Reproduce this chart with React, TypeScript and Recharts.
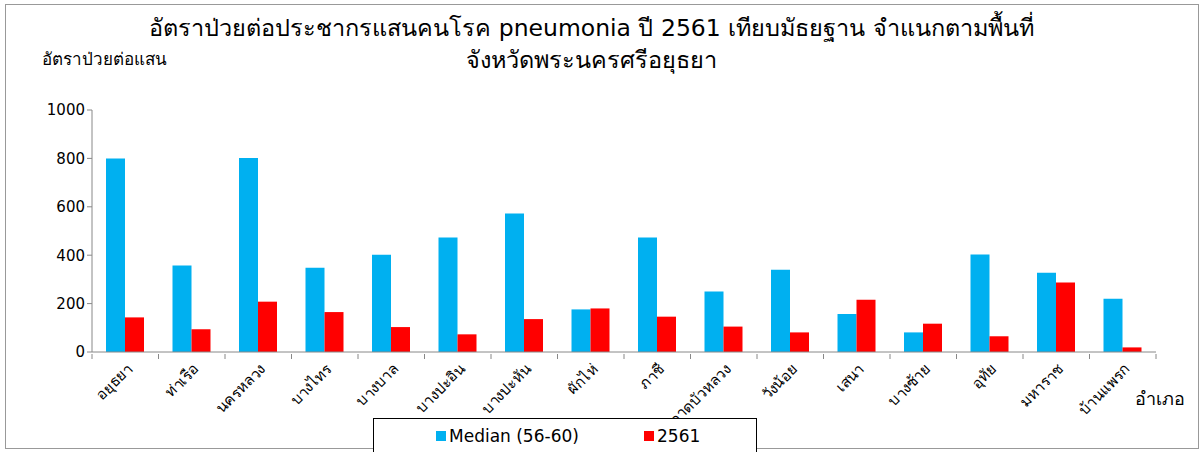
import { BarChart, Bar, XAxis, YAxis } from 'recharts';

const districts = [
  'อยุธยา', 'ท่าเรือ', 'นครหลวง', 'บางไทร', 'บางบาล', 'บางปะอิน', 'บางปะหัน', 'ผักไห่',
  'ภาชี', 'ลาดบัวหลวง', 'วังน้อย', 'เสนา', 'บางซ้าย', 'อุทัย', 'มหาราช', 'บ้านแพรก',
];
const median5660 = [800, 357, 802, 348, 402, 473, 572, 176, 473, 250, 340, 157, 81, 403, 327, 220];
const rate2561 = [143, 94, 208, 165, 103, 73, 136, 180, 146, 105, 81, 216, 117, 65, 287, 19];
const yTicks = [0, 200, 400, 600, 800, 1000];

const seriesNames = ['Median (56-60)', '2561'];
const seriesColors = ['#00B0F0', '#FF0000'];

const data = districts.map((name, i) => ({
  name,
  median: median5660[i],
  y2561: rate2561[i],
}));

const W = 1203;
const H = 452;
const PLOT_LEFT = 92;
const PLOT_RIGHT = 1156;
const BAND = (PLOT_RIGHT - PLOT_LEFT) / districts.length;
const FONT = 'Tahoma, "DejaVu Sans", sans-serif';

// category label rotated, plus Excel-style tick marks between categories
const CategoryTick = ({ x, y, payload, index }: any) => {
  const ay = y - 6; // axis line y
  return (
    <g>
      <line x1={x - BAND / 2} y1={ay} x2={x - BAND / 2} y2={ay + 5} stroke="#888" />
      {index === districts.length - 1 && (
        <line x1={x + BAND / 2} y1={ay} x2={x + BAND / 2} y2={ay + 5} stroke="#888" />
      )}
      <text
        x={x + 8}
        y={ay + 16}
        textAnchor="end"
        transform={`rotate(-45, ${x + 8}, ${ay + 16})`}
        fontSize={15}
        fontFamily={FONT}
        fill="#000"
      >
        {payload.value}
      </text>
    </g>
  );
};

export default function App() {
  return (
    <div style={{ position: 'absolute', left: 0, top: 0, width: W, height: H, background: '#fff', fontFamily: FONT }}>
      <div
        style={{
          position: 'absolute', left: 5, top: 4, width: 1194, height: 445,
          border: '1px solid #999', boxSizing: 'border-box',
        }}
      />
      <div style={{ position: 'absolute', left: 0, width: 1183, top: 12, textAlign: 'center', fontSize: 23.5, lineHeight: '32px' }}>
        อัตราป่วยต่อประชากรแสนคนโรค pneumonia ปี 2561 เทียบมัธยฐาน จำแนกตามพื้นที่
        <br />
        จังหวัดพระนครศรีอยุธยา
      </div>
      <div style={{ position: 'absolute', left: 42, top: 45, fontSize: 17 }}>อัตราป่วยต่อแสน</div>
      <div style={{ position: 'absolute', left: 1135, top: 384, fontSize: 18 }}>อำเภอ</div>
      <BarChart
        width={W}
        height={H}
        data={data}
        margin={{ top: 110, right: W - PLOT_RIGHT, left: 0, bottom: 0 }}
        barGap={0}
        barSize={19}
        style={{ position: 'absolute', left: 0, top: 0 }}
      >
        <XAxis
          dataKey="name"
          interval={0}
          height={H - 352}
          axisLine={{ stroke: '#888' }}
          tickLine={false}
          tick={<CategoryTick />}
        />
        <YAxis
          width={PLOT_LEFT}
          domain={[0, 1000]}
          ticks={yTicks}
          interval={0}
          axisLine={{ stroke: '#888' }}
          tickLine={{ stroke: '#888' }}
          tickSize={5}
          tick={{ fontSize: 15, fill: '#000', fontFamily: FONT }}
        />
        <Bar dataKey="median" name={seriesNames[0]} fill={seriesColors[0]} isAnimationActive={false} />
        <Bar dataKey="y2561" name={seriesNames[1]} fill={seriesColors[1]} isAnimationActive={false} />
      </BarChart>
      <div
        style={{
          position: 'absolute', left: 373, top: 418, width: 384, height: 40,
          border: '1px solid #000', background: '#fff', boxSizing: 'border-box',
          fontSize: 17,
        }}
      >
        {seriesNames.map((n, i) => (
          <span
            key={n}
            style={{ position: 'absolute', left: i === 0 ? 62 : 270, top: 7, display: 'flex', alignItems: 'center' }}
          >
            <span style={{ width: 10, height: 10, background: seriesColors[i], marginRight: 3 }} />
            {n}
          </span>
        ))}
      </div>
    </div>
  );
}
